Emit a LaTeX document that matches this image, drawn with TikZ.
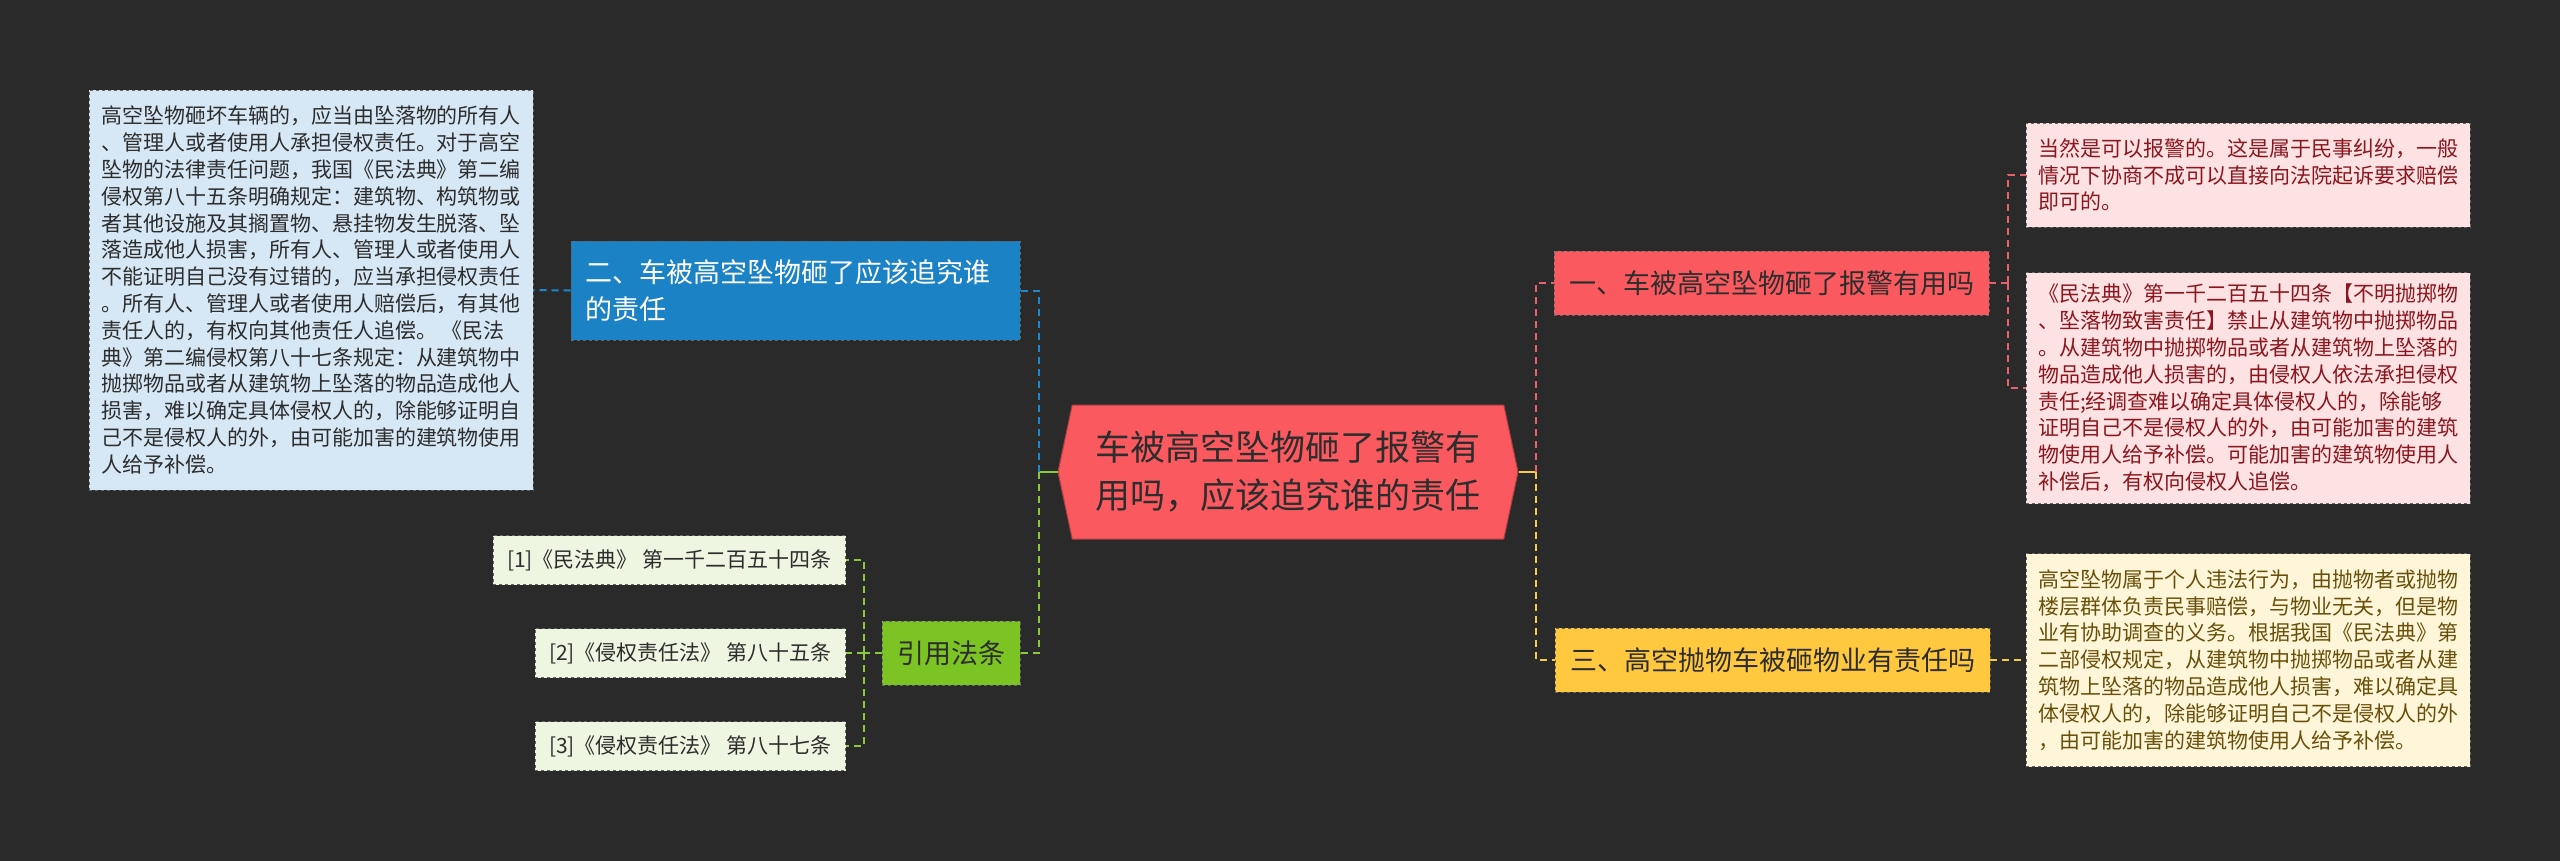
\documentclass[tikz,border=0pt]{standalone}
\usepackage{fontspec}
\setmainfont{Noto Sans CJK SC}
\usetikzlibrary{shapes.symbols,positioning}
\definecolor{bgdark}{RGB}{42,42,42}
\definecolor{rootred}{RGB}{250,90,95}
\definecolor{branchblue}{RGB}{28,130,198}
\definecolor{branchyellow}{RGB}{255,200,62}
\definecolor{branchgreen}{RGB}{124,196,36}
\definecolor{notepink}{RGB}{253,226,228}
\definecolor{noteblue}{RGB}{214,232,245}
\definecolor{noteyellow}{RGB}{255,246,218}
\definecolor{notegreen}{RGB}{238,245,224}
\definecolor{inkdark}{RGB}{45,45,45}
\definecolor{inkred}{RGB}{140,22,30}
\definecolor{inkolive}{RGB}{105,80,10}
\definecolor{linkpink}{RGB}{232,96,106}
\definecolor{linkblue}{RGB}{30,136,204}
\definecolor{linkgreen}{RGB}{140,200,60}
\definecolor{linkyellow}{RGB}{246,204,70}

\begin{document}
\begin{tikzpicture}[
  x=1pt, y=-1pt,
  root/.style={shape=signal, signal to=west and east, signal pointer angle=156,
    fill=rootred, draw=rootred!70!black, line width=1pt, minimum width=460pt,
    minimum height=134pt, inner sep=0pt, align=center, text=inkdark,
    font=\fontsize{35}{48}\selectfont},
  topic/.style={rectangle, draw=black!60, dashed, line width=0.8pt,
    inner xsep=15pt, minimum height=64pt, align=left, text=inkdark,
    font=\fontsize{27}{37}\selectfont},
  note/.style={rectangle, draw=black!60, dashed, line width=0.8pt,
    inner xsep=12pt, align=left, font=\fontsize{21}{26.8}\selectfont},
  cite/.style={note, fill=notegreen, text=inkdark, inner xsep=14pt,
    minimum height=49pt, anchor=east},
  link/.style={line width=2pt, dash pattern=on 7pt off 5pt}
]
  \fill[bgdark] (0,0) rectangle (2560,861);
  \useasboundingbox (0,0) rectangle (2560,861);

  % centre
  \node[root] (root) at (1288,472) {车被高空坠物砸了报警有\\用吗，应该追究谁的责任};

  % right side
  \node[topic, fill=rootred] (ask) at (1771.5,283) {一、车被高空坠物砸了报警有用吗};
  \node[topic, fill=branchyellow] (duty) at (1772.5,660) {三、高空抛物车被砸物业有责任吗};

  \node[note, fill=notepink, text=inkred, minimum width=442pt, minimum height=104pt]
    (askA) at (2248,175) {当然是可以报警的。这是属于民事纠纷，一般\\
    情况下协商不成可以直接向法院起诉要求赔偿\\即可的。};
  \node[note, fill=notepink, text=inkred, minimum width=442pt, minimum height=231pt]
    (askB) at (2248,388) {《民法典》第一千二百五十四条【不明抛掷物\\
    、坠落物致害责任】禁止从建筑物中抛掷物品\\
    。从建筑物中抛掷物品或者从建筑物上坠落的\\
    物品造成他人损害的，由侵权人依法承担侵权\\
    责任;经调查难以确定具体侵权人的，除能够\\
    证明自己不是侵权人的外，由可能加害的建筑\\
    物使用人给予补偿。可能加害的建筑物使用人\\
    补偿后，有权向侵权人追偿。};
  \node[note, fill=noteyellow, text=inkolive, minimum width=442pt, minimum height=213pt]
    (dutyA) at (2248,660) {高空坠物属于个人违法行为，由抛物者或抛物\\
    楼层群体负责民事赔偿，与物业无关，但是物\\
    业有协助调查的义务。根据我国《民法典》第\\
    二部侵权规定，从建筑物中抛掷物品或者从建\\
    筑物上坠落的物品造成他人损害，难以确定具\\
    体侵权人的，除能够证明自己不是侵权人的外\\
    ，由可能加害的建筑物使用人给予补偿。};

  % left side
  \node[topic, fill=branchblue, text=white, text width=421pt, inner xsep=14pt,
    minimum height=99pt] (who) at (795.5,290.5) {二、车被高空坠物砸了应该追究谁\\的责任};
  \node[topic, fill=branchgreen] (laws) at (951,653) {引用法条};

  \node[note, fill=noteblue, text=inkdark, minimum width=444pt, minimum height=400pt]
    (whoA) at (311,290) {高空坠物砸坏车辆的，应当由坠落物的所有人\\
    、管理人或者使用人承担侵权责任。对于高空\\
    坠物的法律责任问题，我国《民法典》第二编\\
    侵权第八十五条明确规定：建筑物、构筑物或\\
    者其他设施及其搁置物、悬挂物发生脱落、坠\\
    落造成他人损害，所有人、管理人或者使用人\\
    不能证明自己没有过错的，应当承担侵权责任\\
    。所有人、管理人或者使用人赔偿后，有其他\\
    责任人的，有权向其他责任人追偿。 《民法\\
    典》第二编侵权第八十七条规定：从建筑物中\\
    抛掷物品或者从建筑物上坠落的物品造成他人\\
    损害，难以确定具体侵权人的，除能够证明自\\
    己不是侵权人的外，由可能加害的建筑物使用\\
    人给予补偿。};

  \node[cite] (lawA) at (846,560) {[1]《民法典》 第一千二百五十四条};
  \node[cite] (lawB) at (846,653) {[2]《侵权责任法》 第八十五条};
  \node[cite] (lawC) at (846,746) {[3]《侵权责任法》 第八十七条};

  % connectors
  \coordinate[left=19pt of root.west] (lfork);
  \coordinate[right=17pt of root.east] (rfork);
  \draw[linkgreen, line width=2.5pt] (root.west) -- (lfork);
  \draw[linkyellow, line width=2.5pt] (root.east) -- (rfork);
  \draw[link, linkblue] (lfork) |- (who.east);
  \draw[link, linkgreen] (lfork) |- (laws.east);
  \draw[link, linkpink] (rfork) |- (ask.west);
  \draw[link, linkyellow] (rfork) |- (duty.west);

  \coordinate[right=19pt of ask.east] (askfork);
  \draw[link, linkpink] (ask.east) -- (askfork);
  \draw[link, linkpink] (askfork) |- (askA.west);
  \draw[link, linkpink] (askfork) |- (askB.west);
  \draw[link, linkyellow] (duty.east) -- (dutyA.west);

  \draw[link, linkblue] (who.west) -- (whoA.east);
  \coordinate[left=18pt of laws.west] (lawfork);
  \draw[link, linkgreen] (laws.west) -- (lawfork);
  \draw[link, linkgreen] (lawfork) |- (lawA.east);
  \draw[link, linkgreen] (lawfork) |- (lawB.east);
  \draw[link, linkgreen] (lawfork) |- (lawC.east);
\end{tikzpicture}
\end{document}
